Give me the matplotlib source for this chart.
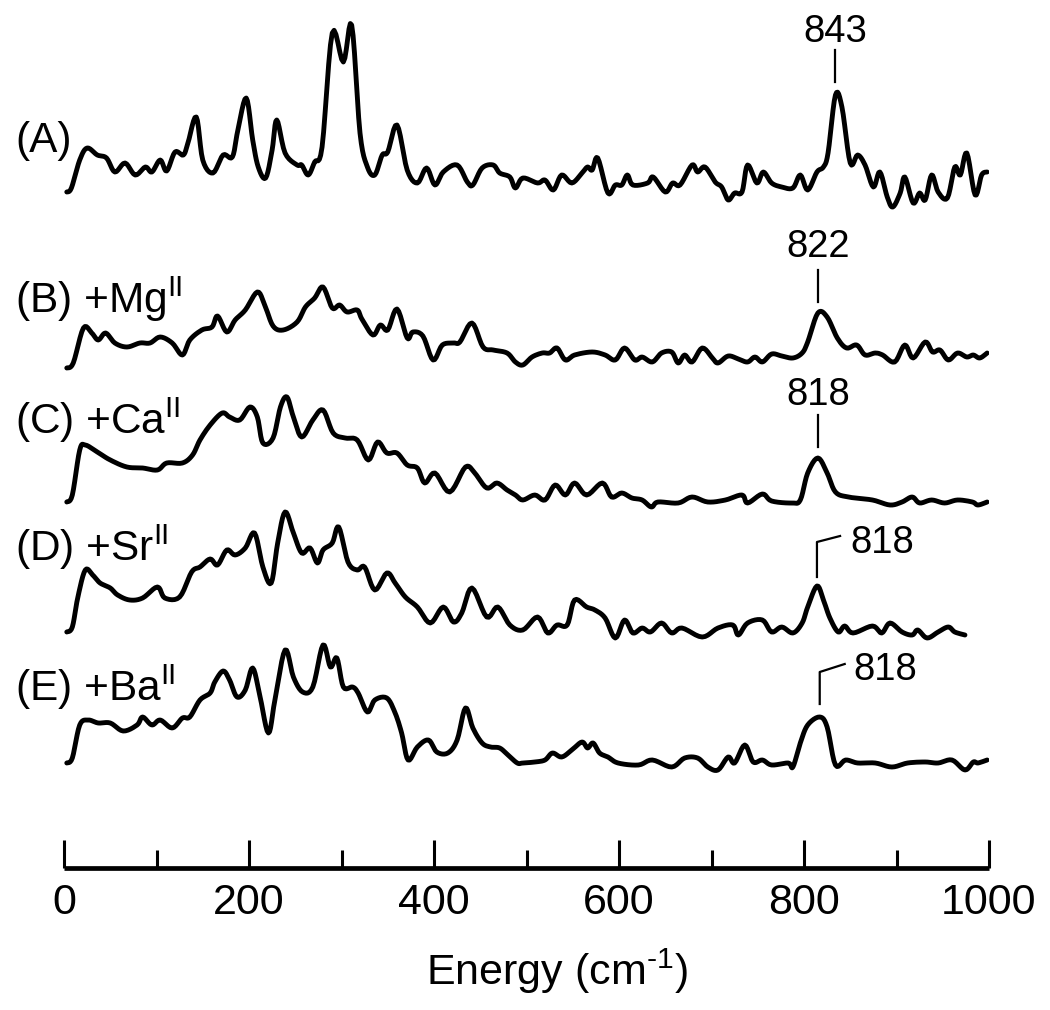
import matplotlib
matplotlib.use("Agg")
import matplotlib.pyplot as plt
from matplotlib.ticker import MultipleLocator
import numpy as np

plt.rcParams['font.family'] = ['Liberation Sans', 'DejaVu Sans']
plt.rcParams['mathtext.default'] = 'regular'

# ---- data (energy in cm^-1, intensity in arbitrary units above each trace baseline) ----
xA = [3, 8, 17, 25, 36, 46, 55, 66, 77, 88, 95, 104, 111, 120, 129, 134, 143, 150, 161, 172,
      182, 188, 197, 204, 210, 218, 225, 230, 239, 252, 257, 264, 271, 279, 290, 302, 311, 320,
      328, 336, 344, 350, 360, 371, 382, 392, 401, 410, 425, 436, 442, 452, 464, 471, 482, 488, 496,
      512, 520, 529, 538, 549, 560, 566, 571, 577, 588, 596, 603, 609, 615, 631, 637, 650, 658, 666,
      679, 685, 693, 704, 711, 718, 725, 733, 739, 749, 756, 765, 776, 788, 796, 804, 814, 821, 826,
      834, 841, 850, 858, 866, 875, 882, 890, 896, 904, 909, 918, 925, 931, 938, 945, 955, 963, 969,
      976, 985, 992, 998]
yA = [18, 22, 50, 62, 55, 52, 38, 47, 35, 43, 38, 50, 39, 58, 55, 67, 93, 50, 37, 55,
      53, 80, 112, 70, 43, 32, 60, 90, 57, 45, 45, 35, 48, 63, 177, 148, 185, 77,
      43, 35, 55, 58, 85, 40, 27, 42, 25, 38, 45, 28, 25, 42, 45, 37, 33, 22, 32,
      27, 30, 20, 35, 27, 37, 43, 40, 52, 17, 25, 25, 35, 25, 27, 33, 18, 27, 25,
      45, 38, 43, 28, 23, 10, 17, 18, 45, 27, 38, 27, 23, 22, 35, 20, 38, 43, 57,
      115, 103, 47, 55, 45, 23, 38, 13, 3, 17, 33, 7, 17, 10, 35, 18, 12, 43, 35,
      57, 15, 35, 38]

xB = [3, 10, 21, 30, 37, 45, 55, 68, 82, 93, 104, 117, 128, 136, 149, 160, 166, 176, 185, 196,
      209, 217, 226, 237, 252, 261, 271, 280, 290, 298, 306, 317, 322, 334, 342, 350, 360, 371,
      377, 388, 399, 409, 421, 428, 441, 453, 464, 479, 488, 496,
      506, 517, 525, 533, 542, 552, 571, 585, 596, 606, 617, 625, 636, 646, 657, 664, 671, 679,
      690, 701, 707, 718, 729, 739, 747, 755, 765, 776, 788, 798, 804, 815, 825, 836, 846, 857,
      866, 877, 885, 898, 909, 918, 931, 939, 947, 956, 966, 976, 983, 990, 998]
yB = [2, 7, 42, 37, 30, 37, 27, 23, 27, 27, 33, 27, 15, 30, 40, 43, 54, 38, 50, 60,
      78, 65, 44, 40, 48, 63, 72, 83, 62, 65, 58, 60, 51, 35, 45, 40, 61, 32,
      38, 34, 10, 25, 27, 28, 47, 23, 20, 17, 8, 5,
      13, 17, 17, 22, 10, 15, 18, 15, 10, 22, 10, 13, 8, 17, 18, 7, 15, 8,
      22, 12, 7, 14, 11, 8, 13, 8, 16, 14, 12, 17, 28, 57, 53, 32, 22, 25,
      15, 17, 15, 8, 25, 12, 28, 18, 20, 10, 17, 13, 15, 12, 17]

xC = [3, 9, 17, 23, 36, 50, 68, 85, 101, 111, 128, 139, 147, 158, 171, 179, 190, 201, 209, 215,
      226, 234, 241, 248, 257, 269, 280, 291, 304, 317, 329, 339, 349, 360, 371, 382, 390, 401,
      417, 434, 444, 457, 468, 479, 488, 496,
      509, 520, 531, 542, 552, 565, 582, 592, 603, 614, 625, 635, 642, 664, 679, 696, 715, 733,
      739, 755, 765, 787, 796, 804, 815, 825, 834, 848, 874, 893, 906, 917, 925, 938, 952, 966,
      982, 988, 998]
yC = [8, 15, 60, 65, 58, 50, 43, 42, 40, 47, 47, 55, 70, 85, 97, 93, 90, 103, 93, 67,
      72, 103, 113, 93, 73, 90, 100, 77, 72, 70, 50, 68, 57, 57, 45, 42, 27, 37,
      18, 43, 37, 22, 27, 20, 15, 10,
      15, 10, 25, 15, 27, 15, 27, 13, 17, 12, 10, 3, 8, 7, 13, 8, 10, 15,
      7, 16, 9, 7, 10, 37, 52, 37, 18, 13, 10, 5, 8, 13, 7, 10, 7, 10,
      8, 5, 8]

xD = [3, 9, 15, 23, 31, 39, 50, 58, 71, 85, 101, 109, 125, 138, 147, 158, 166, 176, 185, 196,
      206, 215, 224, 231, 239, 248, 257, 266, 274, 280, 290, 297, 307, 317, 325, 336, 349, 358,
      369, 382, 396, 410, 421, 430, 441, 457, 469, 482, 496,
      512, 523, 533, 544, 552, 565, 574, 585, 596, 606, 615, 625, 634, 646, 657, 668, 690, 707,
      723, 729, 739, 755, 765, 776, 788, 798, 804, 814, 821, 828, 837, 844, 853, 874, 884, 893,
      906, 917, 923, 933, 945, 956, 963, 974]
yD = [8, 13, 43, 70, 65, 57, 52, 45, 40, 42, 53, 42, 43, 68, 73, 81, 75, 90, 85, 92,
      107, 73, 57, 97, 128, 107, 87, 92, 77, 90, 97, 113, 78, 70, 73, 50, 67, 57,
      43, 33, 17, 33, 18, 27, 52, 23, 33, 15, 10,
      23, 7, 15, 15, 40, 33, 30, 22, 2, 20, 7, 12, 8, 17, 7, 12, 3, 12,
      15, 5, 17, 20, 8, 13, 7, 17, 33, 54, 40, 22, 8, 14, 7, 14, 7, 17,
      8, 5, 10, 2, 8, 13, 8, 5]

xE = [3, 9, 17, 26, 37, 50, 64, 79, 85, 95, 104, 117, 128, 136, 147, 158, 163, 172, 179, 187,
      196, 204, 212, 221, 228, 239, 248, 258, 269, 280, 288, 295, 302, 312, 318, 328, 336, 349,
      358, 365, 372, 382, 394, 403, 415, 425, 434, 442, 452, 461, 471, 480, 490, 496,
      509, 520, 528, 538, 549, 560, 566, 572, 579, 588, 599, 621, 636, 657, 671, 685, 696, 707,
      718, 725, 736, 745, 755, 765, 783, 788, 796, 804, 817, 825, 834, 845, 858, 877, 895, 912,
      931, 945, 960, 974, 983, 988, 998]
yE = [12, 17, 50, 55, 52, 52, 44, 50, 58, 50, 55, 47, 57, 58, 75, 82, 93, 104, 95, 78,
      85, 107, 78, 42, 75, 125, 98, 83, 88, 130, 108, 117, 88, 88, 82, 63, 75, 77,
      62, 42, 15, 28, 35, 23, 22, 35, 67, 47, 32, 28, 27, 20, 12, 12,
      13, 15, 22, 18, 25, 33, 27, 32, 22, 18, 12, 10, 15, 8, 17, 17, 8, 5,
      18, 12, 30, 13, 15, 10, 12, 8, 32, 50, 58, 48, 10, 15, 12, 12, 8, 12,
      13, 12, 15, 5, 13, 12, 15]

labels = ['(A)', '(B) +Mg$^{II}$', '(C) +Ca$^{II}$', '(D) +Sr$^{II}$', '(E) +Ba$^{II}$']
offsets = [658, 498, 358, 228, 93]
label_y = [716, 555, 434, 307, 167]

peak_text = ['843', '822', '818', '818', '818']
peak_x = [834, 815, 815, 814, 817]

xticks_major = [0, 200, 400, 600, 800, 1000]


def smooth(xs, ys, n=6):
    """Catmull-Rom curve through the read-off points (for drawing only)."""
    p = np.column_stack([xs, ys]).astype(float)
    p = np.vstack([p[0], p, p[-1]])
    out = []
    t = np.linspace(0, 1, n, endpoint=False)[:, None]
    for i in range(1, len(p) - 2):
        p0, p1, p2, p3 = p[i - 1], p[i], p[i + 1], p[i + 2]
        seg = 0.5 * ((2 * p1) + (-p0 + p2) * t + (2 * p0 - 5 * p1 + 4 * p2 - p3) * t ** 2
                     + (-p0 + 3 * p1 - 3 * p2 + p3) * t ** 3)
        out.append(seg)
    out.append(p[-2][None, :])
    out = np.vstack(out)
    return out[:, 0], out[:, 1]


# ---- figure ----
fig = plt.figure(figsize=(10.5, 10.1), dpi=100)
ax = fig.add_axes([64 / 1050, 142 / 1010, 925 / 1050, 868 / 1010])

series = [(xA, yA), (xB, yB), (xC, yC), (xD, yD), (xE, yE)]
for (xs, ys), off in zip(series, offsets):
    sx, sy = smooth(xs, np.asarray(ys) + off)
    ax.plot(sx, sy, color='black', lw=3.5,
            solid_joinstyle='round', solid_capstyle='round')

fs_lab = 30.5
fs_pk = 27.5
fs_ax = 31
for lab, ly in zip(labels, label_y):
    ax.text(-53, ly, lab, fontsize=fs_lab, ha='left', va='baseline', clip_on=False)

# straight annotations (A, B, C)
ann_lines = [(818, 786, 826), (598, 566, 611), (453, 421, 463)]
for i, (y0, y1, yt) in enumerate(ann_lines):
    ax.plot([peak_x[i], peak_x[i]], [y0, y1], color='black', lw=1.6)
    ax.text(peak_x[i], yt, peak_text[i], fontsize=fs_pk, ha='center', va='baseline')

# bent annotations (D, E)
bent = [(326, 291, 839, 332, 850, 315), (196, 164, 844, 204, 853, 188)]
for j, (ytop, ybot, xe, ye, xt, yt) in enumerate(bent):
    i = 3 + j
    ax.plot([xe, peak_x[i], peak_x[i]], [ye, ytop, ybot], color='black', lw=1.6)
    ax.text(xt, yt, peak_text[i], fontsize=fs_pk, ha='left', va='baseline')

ax.set_xlim(0, 1000)
ax.set_ylim(0, 868)
for s in ['left', 'right', 'top']:
    ax.spines[s].set_visible(False)
ax.spines['bottom'].set_linewidth(3.4)
ax.spines['bottom'].set_capstyle('butt')
ax.set_yticks([])
ax.set_xticks(xticks_major)
ax.xaxis.set_minor_locator(MultipleLocator(100))
ax.tick_params(axis='x', which='major', direction='in', length=20, width=2.2,
               labelsize=fs_ax, pad=11)
ax.tick_params(axis='x', which='minor', direction='in', length=13, width=2.2)

fig.text(557 / 1050, (1010 - 985) / 1010, 'Energy (cm$^{\u20101}$)', fontsize=fs_ax,
         ha='center', va='baseline')

fig.savefig('out.png', dpi=100)
